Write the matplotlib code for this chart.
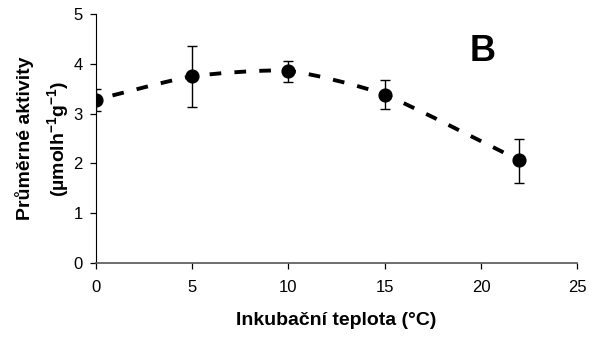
import matplotlib
matplotlib.use("Agg")
import matplotlib.pyplot as plt
from matplotlib.path import Path
from matplotlib.patches import PathPatch

# data
teplota = [0, 5, 10, 15, 22]
aktivita = [3.28, 3.75, 3.86, 3.38, 2.06]
err_lo = [0.23, 0.62, 0.22, 0.28, 0.46]
err_hi = [0.21, 0.60, 0.19, 0.29, 0.44]

plt.rcParams['font.family'] = ['Liberation Sans', 'DejaVu Sans']
plt.rcParams['mathtext.default'] = 'regular'

fig = plt.figure(figsize=(5.92, 3.37), dpi=100)
ax = fig.add_axes([0.162, 0.22, 0.813, 0.738])

# smoothed dashed line (bezier through the points, mild tension)
pts = list(zip(teplota, aktivita))
verts = [pts[0]]
codes = [Path.MOVETO]
n = len(pts)
k = 10
for i in range(n - 1):
    p0 = pts[max(i - 1, 0)]
    p1 = pts[i]
    p2 = pts[i + 1]
    p3 = pts[min(i + 2, n - 1)]
    c1 = (p1[0] + (p2[0] - p0[0]) / k, p1[1] + (p2[1] - p0[1]) / k)
    c2 = (p2[0] - (p3[0] - p1[0]) / k, p2[1] - (p3[1] - p1[1]) / k)
    verts += [c1, c2, p2]
    codes += [Path.CURVE4] * 3
patch = PathPatch(Path(verts, codes), facecolor='none', edgecolor='black',
                  lw=2.8, linestyle=(2, (3, 3.4)), capstyle='butt',
                  transform=ax.transData)
ax.add_patch(patch)

ax.errorbar(teplota, aktivita, yerr=[err_lo, err_hi], fmt='o', color='black',
            ms=9.2, ecolor='black', elinewidth=1.0, capsize=3.4, capthick=1.0, zorder=3)

ax.set_xlim(0, 25)
ax.set_ylim(0, 5)
ax.set_xticks(range(0, 26, 5))
ax.set_yticks(range(0, 6))
ax.spines['top'].set_visible(False)
ax.spines['right'].set_visible(False)
ax.spines['bottom'].set_color('#555555')
ax.spines['bottom'].set_linewidth(1.2)
ax.tick_params(direction='out', length=4, width=0.9, labelsize=12)
ax.tick_params(axis='x', pad=8.5)
ax.tick_params(axis='y', pad=5.5)

ax.set_xlabel('Inkubační teplota (°C)', fontsize=14, fontweight='bold', labelpad=12)
ax.set_ylabel('Průměrné aktivity\n(µmolh$^{-1}$g$^{-1}$)', fontsize=14,
              fontweight='bold', labelpad=2, linespacing=1.55)

ax.text(20.1, 4.25, 'B', fontsize=26, fontweight='bold', ha='center', va='center')

fig.savefig('out.png', dpi=100)
